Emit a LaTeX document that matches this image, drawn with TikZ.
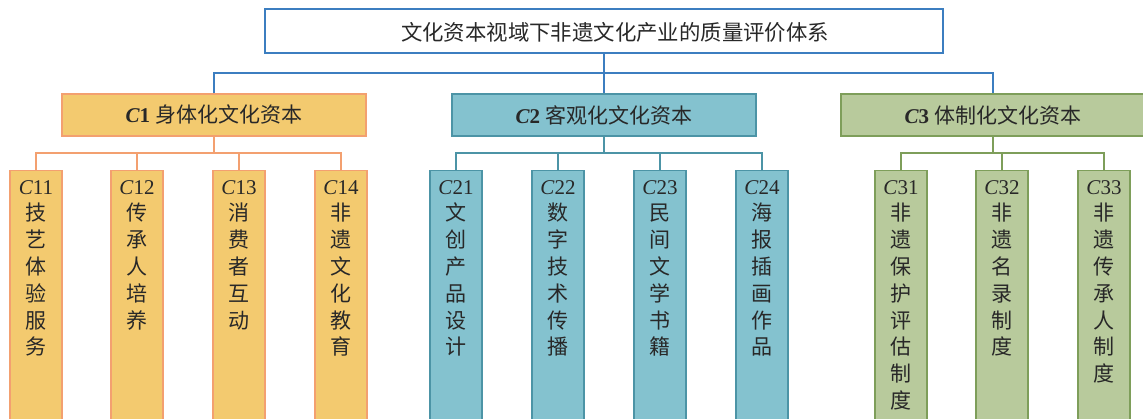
\documentclass[tikz,border=0pt]{standalone}
\usepackage{fontspec}
\setmainfont{Liberation Serif}
\newfontfamily\cjk{Noto Sans CJK SC}
\definecolor{topblue}{RGB}{60,126,192}
\definecolor{fillA}{RGB}{243,202,111}
\definecolor{lineA}{RGB}{243,160,112}
\definecolor{fillB}{RGB}{132,194,207}
\definecolor{lineB}{RGB}{76,148,166}
\definecolor{fillC}{RGB}{184,202,156}
\definecolor{lineC}{RGB}{126,158,90}
\definecolor{txt}{RGB}{40,40,40}
\tikzset{
  rootbox/.style={draw=topblue, line width=1.2pt, fill=white, minimum width=678pt, minimum height=44pt, inner sep=0pt},
  roottext/.style={inner sep=0pt, text=txt, font=\fontsize{21.4pt}{24pt}\selectfont\cjk},
  catbox/.style={line width=1.2pt, minimum width=304pt, minimum height=42pt, inner sep=0pt, text=txt, font=\fontsize{21pt}{24pt}\selectfont},
  kidbox/.style={line width=1.2pt, minimum width=52pt, minimum height=262pt, inner sep=0pt, anchor=north},
  kidtext/.style={anchor=north, inner sep=0pt, align=center, text=txt, font=\fontsize{21pt}{26.8pt}\selectfont},
  conA/.style={draw=lineA, line width=1.1pt},
  conB/.style={draw=lineB, line width=1.1pt},
  conC/.style={draw=lineC, line width=1.1pt},
  conT/.style={draw=topblue, line width=1.1pt},
}
\newcommand{\Cb}[1]{\textbf{\textit{C}#1}}
\newcommand{\Ci}[1]{\textit{C}#1}
\begin{document}
\begin{tikzpicture}[x=1pt,y=-1pt]
\useasboundingbox (0,0) rectangle (1143,419);
\clip (0,0) rectangle (1143,419);

% root
\node[rootbox] (root) at (604,31) {};
\node[roottext] (roott) at ([xshift=11pt,yshift=-1pt]root.center) {文化资本视域下非遗文化产业的质量评价体系};

% categories
\node[catbox, draw=lineA, fill=fillA] (c1) at (214,115) {\Cb{1} {\cjk 身体化文化资本}};
\node[catbox, draw=lineB, fill=fillB] (c2) at (604,115) {\Cb{2} {\cjk 客观化文化资本}};
\node[catbox, draw=lineC, fill=fillC] (c3) at (993,115) {\Cb{3} {\cjk 体制化文化资本}};

\coordinate (bus) at (604,73);
\draw[conT] (root.south) -- (c2.north);
\draw[conT] (c1.north) -- (c1.north |- bus) -- (c3.north |- bus) -- (c3.north);

% children group 1
\foreach \n/\x in {11/36,12/137,13/239,14/341}
  \node[kidbox, draw=lineA, fill=fillA] (c\n) at (\x,170) {};
% children group 2
\foreach \n/\x in {21/456,22/558,23/660,24/762}
  \node[kidbox, draw=lineB, fill=fillB] (c\n) at (\x,170) {};
% children group 3
\foreach \n/\x in {31/901,32/1002,33/1104}
  \node[kidbox, draw=lineC, fill=fillC] (c\n) at (\x,170) {};

% child texts
\node[kidtext] (t11) at ([yshift=-10pt]c11.north) {\Ci{11}\\\cjk 技\\\cjk 艺\\\cjk 体\\\cjk 验\\\cjk 服\\\cjk 务};
\node[kidtext] (t12) at ([yshift=-10pt]c12.north) {\Ci{12}\\\cjk 传\\\cjk 承\\\cjk 人\\\cjk 培\\\cjk 养};
\node[kidtext] (t13) at ([yshift=-10pt]c13.north) {\Ci{13}\\\cjk 消\\\cjk 费\\\cjk 者\\\cjk 互\\\cjk 动};
\node[kidtext] (t14) at ([yshift=-10pt]c14.north) {\Ci{14}\\\cjk 非\\\cjk 遗\\\cjk 文\\\cjk 化\\\cjk 教\\\cjk 育};
\node[kidtext] (t21) at ([yshift=-10pt]c21.north) {\Ci{21}\\\cjk 文\\\cjk 创\\\cjk 产\\\cjk 品\\\cjk 设\\\cjk 计};
\node[kidtext] (t22) at ([yshift=-10pt]c22.north) {\Ci{22}\\\cjk 数\\\cjk 字\\\cjk 技\\\cjk 术\\\cjk 传\\\cjk 播};
\node[kidtext] (t23) at ([yshift=-10pt]c23.north) {\Ci{23}\\\cjk 民\\\cjk 间\\\cjk 文\\\cjk 学\\\cjk 书\\\cjk 籍};
\node[kidtext] (t24) at ([yshift=-10pt]c24.north) {\Ci{24}\\\cjk 海\\\cjk 报\\\cjk 插\\\cjk 画\\\cjk 作\\\cjk 品};
\node[kidtext] (t31) at ([yshift=-10pt]c31.north) {\Ci{31}\\\cjk 非\\\cjk 遗\\\cjk 保\\\cjk 护\\\cjk 评\\\cjk 估\\\cjk 制\\\cjk 度};
\node[kidtext] (t32) at ([yshift=-10pt]c32.north) {\Ci{32}\\\cjk 非\\\cjk 遗\\\cjk 名\\\cjk 录\\\cjk 制\\\cjk 度};
\node[kidtext] (t33) at ([yshift=-10pt]c33.north) {\Ci{33}\\\cjk 非\\\cjk 遗\\\cjk 传\\\cjk 承\\\cjk 人\\\cjk 制\\\cjk 度};

% connectors to children
\coordinate (b1) at (214,153);
\coordinate (b2) at (604,153);
\coordinate (b3) at (993,153);
\draw[conA] (c1.south) -- (b1);
\draw[conA] (c11.north) -- (c11.north |- b1) -- (c14.north |- b1) -- (c14.north);
\draw[conA] (c12.north) -- (c12.north |- b1);
\draw[conA] (c13.north) -- (c13.north |- b1);
\draw[conB] (c2.south) -- (b2);
\draw[conB] (c21.north) -- (c21.north |- b2) -- (c24.north |- b2) -- (c24.north);
\draw[conB] (c22.north) -- (c22.north |- b2);
\draw[conB] (c23.north) -- (c23.north |- b2);
\draw[conC] (c3.south) -- (b3);
\draw[conC] (c31.north) -- (c31.north |- b3) -- (c33.north |- b3) -- (c33.north);
\draw[conC] (c32.north) -- (c32.north |- b3);
\end{tikzpicture}
\end{document}
